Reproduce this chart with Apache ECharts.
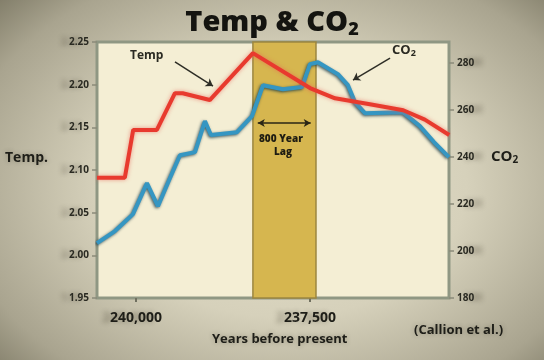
<!DOCTYPE html>
<html>
<head>
<meta charset="utf-8">
<script src="https://cdn.jsdelivr.net/npm/echarts@6/dist/echarts.min.js"></script>
<style>
  html, body { margin: 0; padding: 0; }
  body {
    width: 544px; height: 360px; overflow: hidden;
    background: radial-gradient(ellipse 75% 80% at 52% 52%, #e4dfca 0%, #d6d1bb 45%, #a9a48f 80%, #77735f 100%);
  }
  #chart { width: 544px; height: 360px; filter: blur(0.4px); }
</style>
</head>
<body>
<div id="chart"></div>
<script>
// ---- data ----
const tempYears  = [240560, 240160, 240040, 239700, 239440, 239330, 238940, 238320, 237500, 237140, 236640, 236160, 235850, 235500];
const tempValues = [2.091, 2.091, 2.147, 2.147, 2.190, 2.190, 2.182, 2.237, 2.196, 2.184, 2.177, 2.170, 2.159, 2.141];

const co2Years  = [240560, 240302, 240043, 239842, 239684, 239511, 239368, 239152, 239009, 238922, 238549, 238333, 238175, 237888, 237615, 237500, 237385, 237098, 236954, 236853, 236710, 236164, 235920, 235718, 235503];
const co2Values = [203.4, 208.5, 215.7, 228.9, 219.1, 231.1, 240.8, 242.1, 255.3, 249.4, 250.6, 257.4, 270.6, 268.9, 269.8, 279.6, 280.4, 275.3, 270.6, 263.4, 258.7, 259.1, 253.2, 246.4, 240.0];

const lagStart = 238320, lagEnd = 237414;
const xTicks = [240000, 237500];
const tempTicks = [1.95, 2.00, 2.05, 2.10, 2.15, 2.20, 2.25];
const co2Ticks = [180, 200, 220, 240, 260, 280];

// annotation arrows (data coordinates)
const tempArrow = [[239440, 2.2266], [238894, 2.1984]];
const co2Arrow  = [[236350, 282.1], [236882, 272.8]];
const lagArrow  = [[238250, 2.155], [237490, 2.155]];

const chart = echarts.init(document.getElementById('chart'), null, { renderer: 'canvas' });
const FONT = '"Open Sans", "DejaVu Sans", sans-serif';
const ghost = { textShadowColor: 'rgba(40,35,20,0.35)', textShadowBlur: 5, textShadowOffsetX: -8 };

chart.setOption({
  backgroundColor: 'transparent',
  animation: false,
  title: {
    text: '{a|Temp & CO}{s|2}',
    left: 'center', top: 2,
    textStyle: {
      rich: {
        a: { fontFamily: FONT, fontWeight: 800, fontSize: 29, color: '#141410' },
        s: { fontFamily: FONT, fontWeight: 800, fontSize: 18, color: '#141410', padding: [14, 0, 0, 0] }
      }
    }
  },
  grid: {
    left: 97, right: 95, top: 42, bottom: 62,
    show: true, backgroundColor: '#f4eed4', borderColor: '#8f9783', borderWidth: 3
  },
  xAxis: {
    type: 'value', inverse: true, min: 235503, max: 240560,
    axisLine: { show: false },
    splitLine: { show: false },
    axisTick: { show: true, customValues: xTicks, length: 4, lineStyle: { color: '#707060', width: 2 } },
    axisLabel: {
      customValues: xTicks, margin: 13,
      fontFamily: FONT, fontWeight: 700, fontSize: 14, color: '#1e1e18',
      formatter: v => v.toLocaleString('en-US'),
      ...ghost
    }
  },
  yAxis: [
    {
      type: 'value', min: 1.95, max: 2.25, position: 'left',
      axisLine: { show: false },
      splitLine: { show: false },
      axisTick: { show: true, customValues: tempTicks, length: 5, lineStyle: { color: '#8a8a7a', width: 1.5 } },
      axisLabel: {
        customValues: tempTicks, margin: 8,
        fontFamily: FONT, fontWeight: 700, fontSize: 10, color: '#2a2a22',
        formatter: v => v.toFixed(2), ...ghost
      }
    },
    {
      type: 'value', min: 180, max: 289, position: 'right',
      axisLine: { show: false },
      splitLine: { show: false },
      axisTick: { show: true, customValues: co2Ticks, length: 5, lineStyle: { color: '#8a8a7a', width: 1.5 } },
      axisLabel: {
        customValues: co2Ticks, margin: 8,
        fontFamily: FONT, fontWeight: 700, fontSize: 10, color: '#2a2a22',
        textShadowColor: 'rgba(40,35,20,0.35)', textShadowBlur: 5, textShadowOffsetX: 8
      }
    }
  ],
  series: [
    {
      name: 'lag', type: 'line', yAxisIndex: 0, data: [], silent: true,
      markArea: {
        silent: true,
        itemStyle: { color: '#d6b64f', borderColor: '#9c8640', borderWidth: 1.5 },
        data: [[{ xAxis: lagStart }, { xAxis: lagEnd }]]
      },
      markLine: {
        silent: true, symbol: ['arrow', 'arrow'], symbolSize: [6, 7],
        lineStyle: { color: '#2a2515', width: 1.5, type: 'solid' },
        label: { show: false },
        data: [[{ coord: lagArrow[0] }, { coord: lagArrow[1] }]]
      }
    },
    {
      name: 'CO2', type: 'line', yAxisIndex: 1,
      data: co2Years.map((y, i) => [y, co2Values[i]]),
      showSymbol: false, smooth: false,
      lineStyle: { color: '#3596c2', width: 4, shadowColor: 'rgba(20,55,70,0.8)', shadowBlur: 3, shadowOffsetX: -1, shadowOffsetY: 1 },
      z: 3,
      markLine: {
        silent: true, symbol: ['none', 'arrow'], symbolSize: 7,
        lineStyle: { color: '#2e2e26', width: 1.5, type: 'solid' },
        label: { show: false },
        data: [[{ coord: co2Arrow[0] }, { coord: co2Arrow[1] }]]
      }
    },
    {
      name: 'Temp', type: 'line', yAxisIndex: 0,
      data: tempYears.map((y, i) => [y, tempValues[i]]),
      showSymbol: false, smooth: false,
      lineStyle: { color: '#e83a2e', width: 4, shadowColor: 'rgba(230,90,80,0.6)', shadowBlur: 4 },
      z: 4,
      markLine: {
        silent: true, symbol: ['none', 'arrow'], symbolSize: 7,
        lineStyle: { color: '#2e2e26', width: 1.5, type: 'solid' },
        label: { show: false },
        data: [[{ coord: tempArrow[0] }, { coord: tempArrow[1] }]]
      }
    }
  ],
  graphic: {
    elements: [
      { type: 'text', z: 100, left: 130, top: 50, style: { text: 'Temp', font: '700 12px ' + FONT, fill: '#2a2a22' } },
      { type: 'text', z: 100, left: 392, top: 44, style: { text: '{a|CO}{s|2}', rich: { a: { font: '700 13px ' + FONT, fill: '#2a2a22' }, s: { font: '700 9px ' + FONT, fill: '#2a2a22', padding: [6, 0, 0, 0] } } } },
      { type: 'text', z: 100, left: 259, top: 134, style: { text: '800 Year', font: '800 10px ' + FONT, fill: '#1e1c12' } },
      { type: 'text', z: 100, left: 274, top: 147, style: { text: 'Lag', font: '800 10px ' + FONT, fill: '#1e1c12' } },
      { type: 'text', z: 100, left: 5, top: 151, style: { text: 'Temp.', font: '700 14px ' + FONT, fill: '#1e1e18', textShadowColor: 'rgba(40,35,20,0.3)', textShadowBlur: 5 } },
      { type: 'text', z: 100, left: 491, top: 149, style: { text: '{a|CO}{s|2}', rich: { a: { font: '700 15px ' + FONT, fill: '#1e1e18' }, s: { font: '700 10px ' + FONT, fill: '#1e1e18', padding: [7, 0, 0, 0] } } } },
      { type: 'text', z: 100, left: 212, top: 333, style: { text: 'Years before present', font: '700 13px ' + FONT, fill: '#1e1e18', textShadowColor: 'rgba(40,35,20,0.3)', textShadowBlur: 5 } },
      { type: 'text', z: 100, left: 414, top: 324, style: { text: '(Callion et al.)', font: '700 13px ' + FONT, fill: '#1e1e18', textShadowColor: 'rgba(40,35,20,0.3)', textShadowBlur: 5 } }
    ]
  }
});
</script>
</body>
</html>
